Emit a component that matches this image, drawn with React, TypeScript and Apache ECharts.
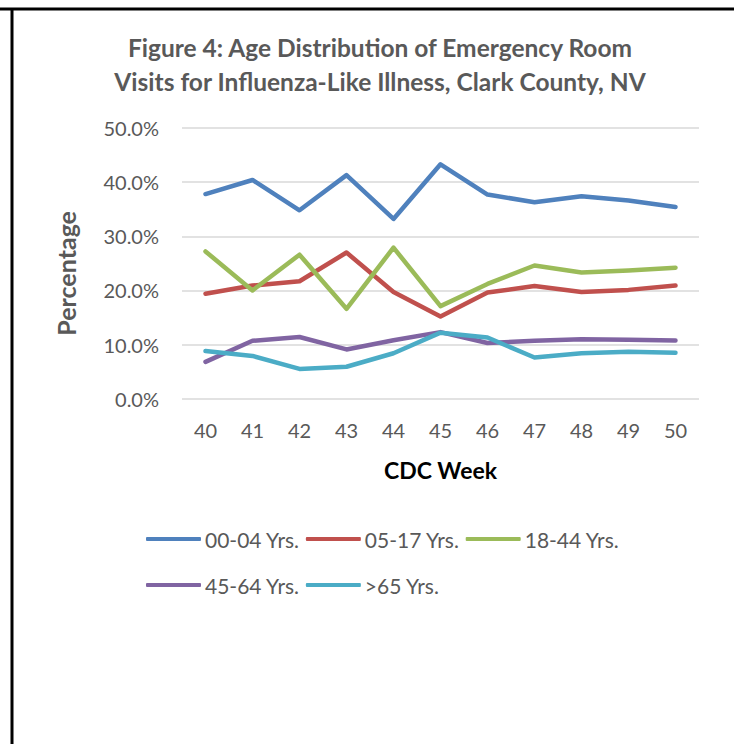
import React, { useEffect, useRef } from "react";
import * as echarts from "echarts";

const weeks = ["40", "41", "42", "43", "44", "45", "46", "47", "48", "49", "50"];
const seriesNames = ["00-04 Yrs.", "05-17 Yrs.", "18-44 Yrs.", "45-64 Yrs.", ">65 Yrs."];
const age00_04 = [37.8, 40.4, 34.8, 41.3, 33.2, 43.3, 37.7, 36.3, 37.4, 36.6, 35.4];
const age05_17 = [19.4, 20.9, 21.7, 27.0, 19.7, 15.2, 19.6, 20.8, 19.7, 20.1, 20.9];
const age18_44 = [27.2, 20.0, 26.6, 16.6, 27.9, 17.1, 21.2, 24.6, 23.3, 23.7, 24.2];
const age45_64 = [6.8, 10.7, 11.4, 9.1, 10.8, 12.3, 10.3, 10.7, 11.0, 10.9, 10.75];
const age65plus = [8.8, 7.9, 5.5, 5.9, 8.4, 12.2, 11.3, 7.6, 8.4, 8.65, 8.5];
const colors = ["#4f81bd", "#c0504d", "#9bbb59", "#8064a2", "#4bacc6"];

const FONT = "Lato";

export default function App() {
  const ref = useRef<HTMLDivElement>(null);
  useEffect(() => {
    if (!ref.current) return;
    const chart = echarts.init(ref.current, null, { renderer: "svg" });
    const data = [age00_04, age05_17, age18_44, age45_64, age65plus];
    chart.setOption({
      animation: false,
      backgroundColor: "#ffffff",
      title: {
        text: "Figure 4: Age Distribution of Emergency Room\nVisits for Influenza-Like Illness, Clark County, NV",
        left: 375,
        top: 25,
        textAlign: "center",
        textStyle: {
          fontFamily: FONT,
          fontWeight: "bold",
          fontSize: 24.5,
          lineHeight: 34,
          color: "#595959",
        },
      },
      legend: {
        left: 141,
        top: 514,
        width: 500,
        itemWidth: 55,
        itemHeight: 4,
        itemGap: 6,
        icon: "roundRect",
        textStyle: { fontFamily: FONT, fontSize: 21, lineHeight: 40, color: "#595959", padding: [0, 0, 0, -1] },
        data: seriesNames,
      },
      grid: { left: 182, right: 35, top: 128, height: 270.7, containLabel: false },
      xAxis: {
        type: "category",
        data: weeks,
        boundaryGap: true,
        axisLine: { show: false },
        axisTick: { show: false },
        axisLabel: { fontFamily: FONT, fontSize: 20, color: "#595959", margin: 21 },
        name: "CDC Week",
        nameLocation: "middle",
        nameGap: 60,
        nameTextStyle: { fontFamily: FONT, fontSize: 23, fontWeight: "bold", color: "#000000" },
      },
      yAxis: {
        type: "value",
        min: 0,
        max: 50,
        interval: 10,
        axisLine: { show: false },
        axisTick: { show: false },
        splitLine: { lineStyle: { color: "#d9d9d9", width: 1.5 } },
        axisLabel: {
          fontFamily: FONT,
          fontSize: 20,
          color: "#595959",
          margin: 23,
          formatter: (v: number) => v.toFixed(1) + "%",
        },
        name: "Percentage",
        nameLocation: "middle",
        nameRotate: 90,
        nameGap: 104,
        nameTextStyle: {
          fontFamily: FONT,
          fontSize: 25,
          fontWeight: "bold",
          color: "#595959",
          padding: [0, 20, 0, 0],
        },
      },
      series: seriesNames.map((n, i) => ({
        name: n,
        type: "line",
        data: data[i],
        symbol: "none",
        color: colors[i],
        lineStyle: { width: 4.5, color: colors[i], cap: "round", join: "round" },
      })),
      graphic: [
        { type: "line", shape: { x1: 0, y1: 9, x2: 734, y2: 9 }, style: { stroke: "#000", lineWidth: 3 } },
        { type: "line", shape: { x1: 12, y1: 9, x2: 12, y2: 744 }, style: { stroke: "#000", lineWidth: 3 } },
      ],
    });
    return () => chart.dispose();
  }, []);
  return <div ref={ref} style={{ position: "absolute", left: 0, top: 0, width: 734, height: 744 }} />;
}
